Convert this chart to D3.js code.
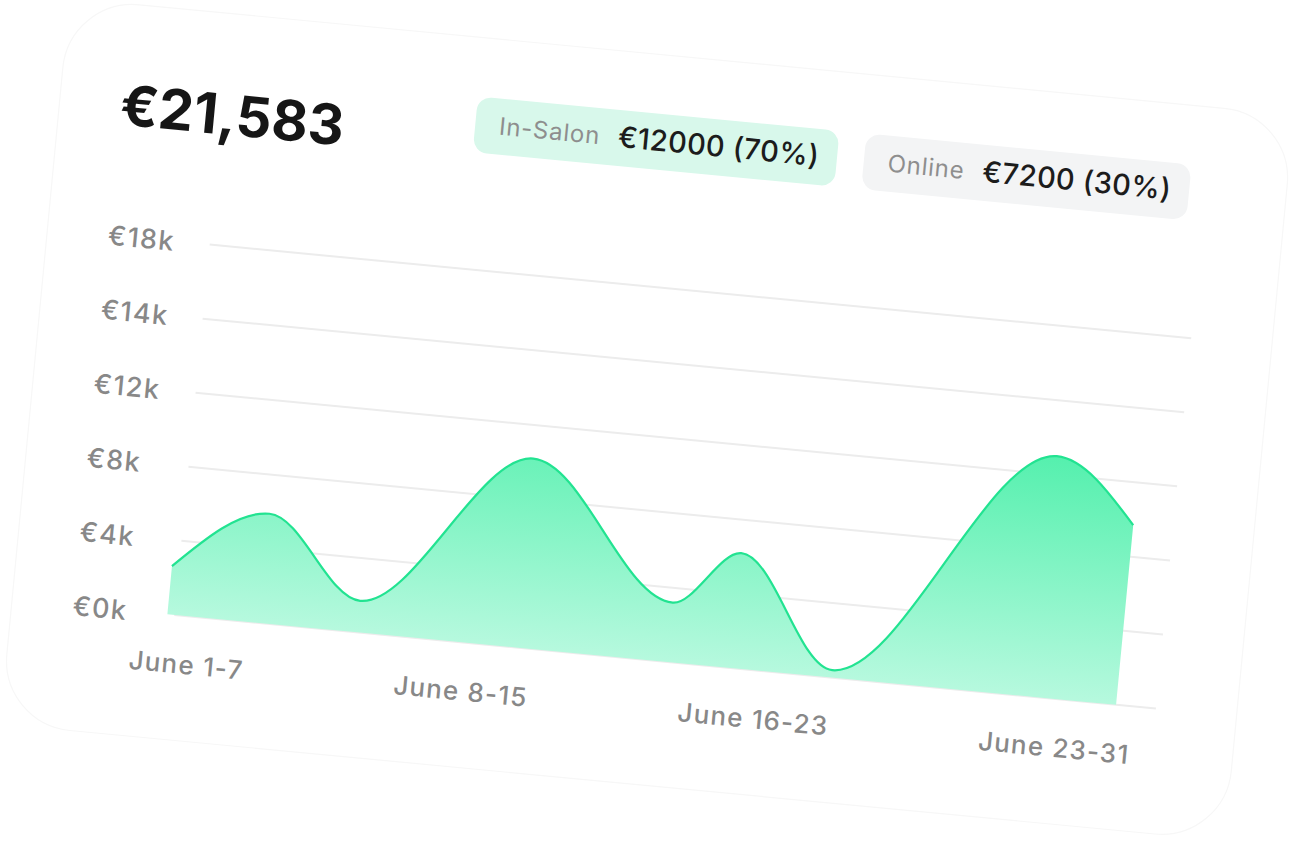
<!DOCTYPE html>
<meta charset="utf-8">
<style>
body { margin: 0; background: #fff; }
svg { display: block; font-family: Inter, "Noto Sans", sans-serif; }
.grid line { stroke: #ececec; stroke-width: 2; }
.ylab { fill: #888; font-size: 27px; font-weight: 500; letter-spacing: 1.4px; }
.xlab { fill: #888; font-size: 26px; font-weight: 500; letter-spacing: 1.2px; }
.pill-label { fill: #8e8e8e; font-size: 24px; font-weight: 400; letter-spacing: 0.8px; }
.pill-value { fill: #1c1c1c; font-size: 29px; font-weight: 500; letter-spacing: 0.3px; }
</style>
<svg width="1296" height="841"></svg>
<script src="https://cdn.jsdelivr.net/npm/d3@7"></script>
<script>

var total = "€21,583";
var channels = ["In-Salon", "Online"];
var channelValues = ["€12000 (70%)", "€7200 (30%)"];
var weeks = ["June 1-7", "June 8-15", "June 16-23", "June 23-31"];
var tickValues = [0, 4, 8, 12, 16, 20];
var tickLabels = ["€0k", "€4k", "€8k", "€12k", "€14k", "€18k"];
var days = [1, 3.9, 7, 12, 16.8, 18.8, 22, 28.4, 31];
var revenue = [2.6, 5.9, 1.7, 10.2, 3.2, 6.2, 0.4, 13.0, 9.7]; // k€

var svg = d3.select("svg");

var defs = svg.append("defs");
var grad = defs.append("linearGradient")
    .attr("id", "fillGrad")
    .attr("gradientUnits", "userSpaceOnUse")
    .attr("x1", 0).attr("x2", 0);

// whole card is tilted
var card = svg.append("g")
    .attr("transform", "rotate(5.45, 648, 420)");

card.append("rect")
    .attr("x", 32).attr("y", 55)
    .attr("width", 1230).attr("height", 729)
    .attr("rx", 70)
    .attr("fill", "#fff")
    .attr("stroke", "#f7f7f7")
    .attr("stroke-width", 1.2);

var x = d3.scaleLinear().domain([1, 31]).range([188, 1141]);
var y = d3.scaleLinear().domain([0, 20]).range([659, 287]);

grad.attr("y1", y(13)).attr("y2", y(0));
grad.append("stop").attr("offset", "0%").attr("stop-color", "#55f0ae");
grad.append("stop").attr("offset", "100%").attr("stop-color", "#b6f9de");

// title
card.append("text")
    .attr("x", 93).attr("y", 176)
    .style("font-size", "56px")
    .style("font-weight", 700)
    .style("fill", "#161616")
    .text(total);

// pills
var pillColors = ["#d8f8eb", "#f3f4f5"];
var px = 448;
channels.forEach(function (c, i) {
  var g = card.append("g");
  var bg = g.append("rect");
  var lab = g.append("text").attr("class", "pill-label")
      .attr("x", px + 24).attr("y", 150).text(c);
  var lw = lab.node().getComputedTextLength();
  var val = g.append("text").attr("class", "pill-value")
      .attr("x", px + 24 + lw + 18).attr("y", 151).text(channelValues[i]);
  var vw = val.node().getComputedTextLength();
  var w = 24 + lw + 18 + vw + 18;
  bg.attr("x", px).attr("y", 114)
    .attr("width", w).attr("height", 56)
    .attr("rx", 14)
    .attr("fill", pillColors[i]);
  px += w + 27;
});

// grid + y labels
card.append("g").attr("class", "grid")
  .selectAll("line")
  .data(tickValues)
  .enter().append("line")
    .attr("x1", 195).attr("x2", 1181)
    .attr("y1", function (d) { return y(d); })
    .attr("y2", function (d) { return y(d); });

card.append("g")
  .selectAll("text")
  .data(tickValues)
  .enter().append("text")
    .attr("class", "ylab")
    .attr("x", 93)
    .attr("y", function (d) { return y(d); })
    .attr("dy", "0.36em")
    .text(function (d, i) { return tickLabels[i]; });

// area + line
var pts = days.map(function (d, i) { return [d, revenue[i]]; });

var area = d3.area()
    .x(function (d) { return x(d[0]); })
    .y0(y(0))
    .y1(function (d) { return y(d[1]); })
    .curve(d3.curveMonotoneX);

var line = d3.line()
    .x(function (d) { return x(d[0]); })
    .y(function (d) { return y(d[1]); })
    .curve(d3.curveMonotoneX);

card.append("path")
    .datum(pts)
    .attr("d", area)
    .attr("fill", "url(#fillGrad)");

card.append("path")
    .datum(pts)
    .attr("d", line)
    .attr("fill", "none")
    .attr("stroke", "#22e391")
    .attr("stroke-width", 2.2);

// week labels, spread like space-between
var xl = card.append("g")
  .selectAll("text")
  .data(weeks)
  .enter().append("text")
    .attr("class", "xlab")
    .attr("y", 717)
    .text(function (d) { return d; });

var widths = [];
xl.each(function () { widths.push(this.getComputedTextLength()); });
var left = 154, right = 1159;
var gap = (right - left - d3.sum(widths)) / (weeks.length - 1);
var cur = left;
xl.attr("x", function (d, i) {
  var v = cur;
  cur += widths[i] + gap;
  return v;
});

</script>
